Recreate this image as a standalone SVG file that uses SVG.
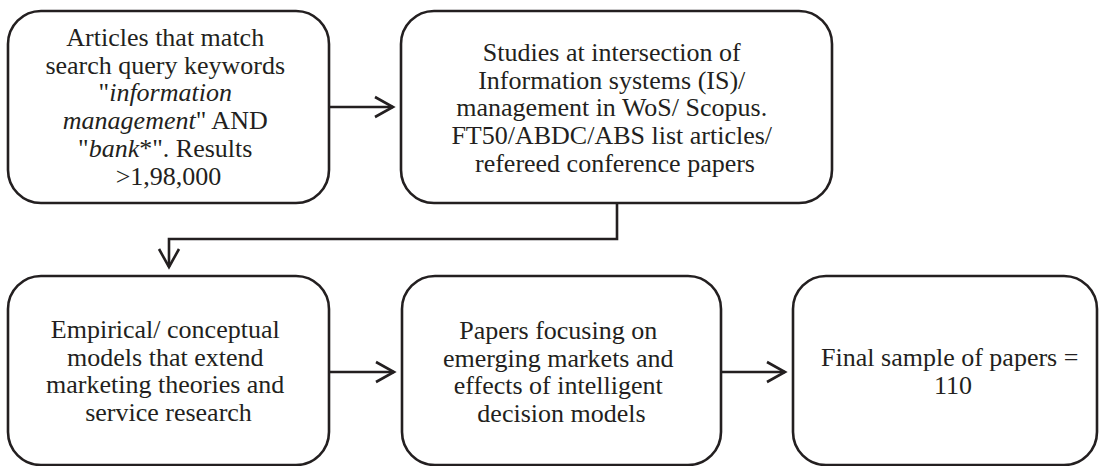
<svg xmlns="http://www.w3.org/2000/svg" width="1099" height="466" viewBox="0 0 1099 466">
<defs>
<style>
.box{fill:#fff;stroke:#231f20;stroke-width:2.6}
.t{font-family:"Liberation Serif","Times New Roman",serif;font-size:26px;fill:#231f20;text-anchor:middle}
.i{font-style:italic}
.c{fill:none;stroke:#231f20;stroke-width:2.6}
</style>
<marker id="ah" viewBox="-22 -13 25 26" markerWidth="25" markerHeight="26" refX="0" refY="0" orient="auto" markerUnits="userSpaceOnUse">
<path d="M-18,-10 L0,0 L-18,10" fill="none" stroke="#231f20" stroke-width="2.6"/>
</marker>
</defs>
<rect width="1099" height="466" fill="#fff"/>
<g id="connectors">
<path class="c" d="M329,107 H393" marker-end="url(#ah)"/>
<path class="c" d="M617,203 V239 H169 V267" marker-end="url(#ah)"/>
<path class="c" d="M329,372 H394" marker-end="url(#ah)"/>
<path class="c" d="M721,372 H785" marker-end="url(#ah)"/>
</g>
<g id="node1">
<rect class="box" x="8" y="11" width="321" height="192" rx="33"/>
<text class="t">
<tspan x="168.5" y="46">Articles that match</tspan>
<tspan x="168.5" y="73.7">search query keywords</tspan>
<tspan x="168.5" y="101.4">"<tspan class="i">information</tspan></tspan>
<tspan x="168.5" y="129.1"><tspan class="i">management</tspan>" AND</tspan>
<tspan x="168.5" y="156.8">"<tspan class="i">bank</tspan>*". Results</tspan>
<tspan x="168.5" y="184.5">&gt;1,98,000</tspan>
</text>
</g>
<g id="node2">
<rect class="box" x="401" y="11" width="431" height="192" rx="33"/>
<text class="t">
<tspan x="615" y="61">Studies at intersection of</tspan>
<tspan x="615" y="88.7">Information systems (IS)/</tspan>
<tspan x="615" y="116.4">management in WoS/ Scopus.</tspan>
<tspan x="615" y="144.1">FT50/ABDC/ABS list articles/</tspan>
<tspan x="615" y="171.8">refereed conference papers</tspan>
</text>
</g>
<g id="node3">
<rect class="box" x="8" y="276" width="321" height="189" rx="33"/>
<text class="t">
<tspan x="168.5" y="338">Empirical/ conceptual</tspan>
<tspan x="168.5" y="365.7">models that extend</tspan>
<tspan x="168.5" y="393.3">marketing theories and</tspan>
<tspan x="168.5" y="421">service research</tspan>
</text>
</g>
<g id="node4">
<rect class="box" x="402" y="276" width="319" height="189" rx="33"/>
<text class="t">
<tspan x="561.5" y="339">Papers focusing on</tspan>
<tspan x="561.5" y="366.7">emerging markets and</tspan>
<tspan x="561.5" y="394.4">effects of intelligent</tspan>
<tspan x="561.5" y="422.1">decision models</tspan>
</text>
</g>
<g id="node5">
<rect class="box" x="793" y="276" width="304" height="189" rx="33"/>
<text class="t">
<tspan x="953" y="366">Final sample of papers =</tspan>
<tspan x="953" y="393.7">110</tspan>
</text>
</g>
</svg>
